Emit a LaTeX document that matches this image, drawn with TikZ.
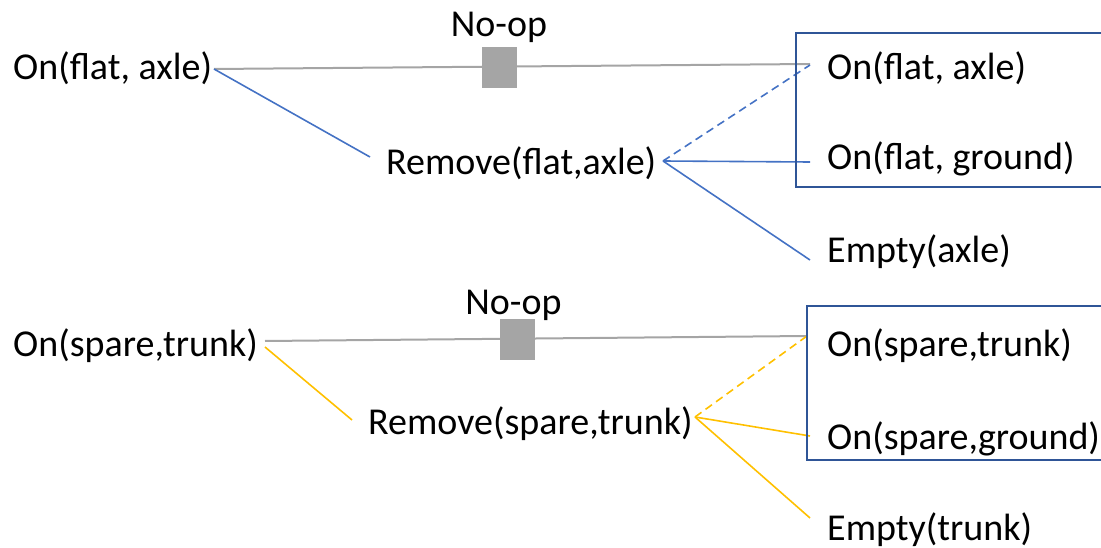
\documentclass[tikz,border=0pt]{standalone}
\usepackage{fontspec}
\setmainfont{Carlito}
\definecolor{lblue}{HTML}{4472C4}
\definecolor{bblue}{HTML}{2F5597}
\definecolor{lyellow}{HTML}{FFC000}
\definecolor{lgray}{HTML}{A5A5A5}
\begin{document}
\begin{tikzpicture}[x=1pt,y=-1pt,
  lbl/.style={inner sep=0pt, anchor=base west, font=\fontsize{38}{44}\selectfont},
  noop/.style={inner sep=0pt, anchor=base, font=\fontsize{38}{44}\selectfont},
  grayline/.style={draw=lgray, line width=2pt},
  grect/.style={fill=lgray, draw=none, minimum width=35pt, minimum height=41pt, inner sep=0pt},
  bl/.style={draw=lblue, line width=1.6pt},
  yl/.style={draw=lyellow, line width=1.6pt},
  boxline/.style={draw=bblue, line width=1.8pt}
]
\useasboundingbox (0,0) rectangle (1101,548);
% ---------- top group ----------
\node[lbl] (a1) at (13,80) {On(flat, axle)};
\node[noop] (n1) at (499,37) {No-op};
\node[lbl] (rm1) at (386,175) {Remove(flat,axle)};
\node[lbl] (p1) at (827,80) {On(flat, axle)};
\node[lbl] (p2) at (827,170) {On(flat, ground)};
\node[lbl] (p3) at (827,262) {Empty(axle)};
\coordinate (a1e) at (214,69);
\coordinate (g1e) at (810,64);
\coordinate (rm1in) at (370,157);
\coordinate (rm1out) at (663,161);
\coordinate (p1in) at (810,65);
\coordinate (p2in) at (810,162);
\coordinate (p3in) at (810,260);
\draw[grayline] (a1e) -- (g1e);
\node[grect] (s1) at (499.5,67.5) {};
\draw[bl] (a1e) -- (rm1in);
\draw[bl, dashed, dash pattern=on 8pt off 5pt] (rm1out) -- (p1in);
\draw[bl] (rm1out) -- (p2in);
\draw[bl] (rm1out) -- (p3in);
\draw[boxline] (1110,33) -- (796,33) -- (796,187) -- (1110,187);
% ---------- bottom group ----------
\node[lbl] (a2) at (13,356) {On(spare,trunk)};
\node[noop] (n2) at (513.5,315) {No-op};
\node[lbl] (rm2) at (368,434) {Remove(spare,trunk)};
\node[lbl] (q1) at (827,356) {On(spare,trunk)};
\node[lbl] (q2) at (827,449) {On(spare,ground)};
\node[lbl] (q3) at (827,540) {Empty(trunk)};
\coordinate (a2e) at (265,341);
\coordinate (a2d) at (265,347);
\coordinate (g2e) at (807,336);
\coordinate (rm2in) at (352,420);
\coordinate (rm2out) at (695,417);
\coordinate (q1in) at (807,336);
\coordinate (q2in) at (810,436);
\coordinate (q3in) at (810,518);
\draw[grayline] (a2e) -- (g2e);
\node[grect] (s2) at (517.5,339) {};
\draw[yl] (a2d) -- (rm2in);
\draw[yl, dashed, dash pattern=on 8pt off 5pt] (rm2out) -- (q1in);
\draw[yl] (rm2out) -- (q2in);
\draw[yl] (rm2out) -- (q3in);
\draw[boxline] (1110,306) -- (807,306) -- (807,460) -- (1110,460);
\end{tikzpicture}
\end{document}
